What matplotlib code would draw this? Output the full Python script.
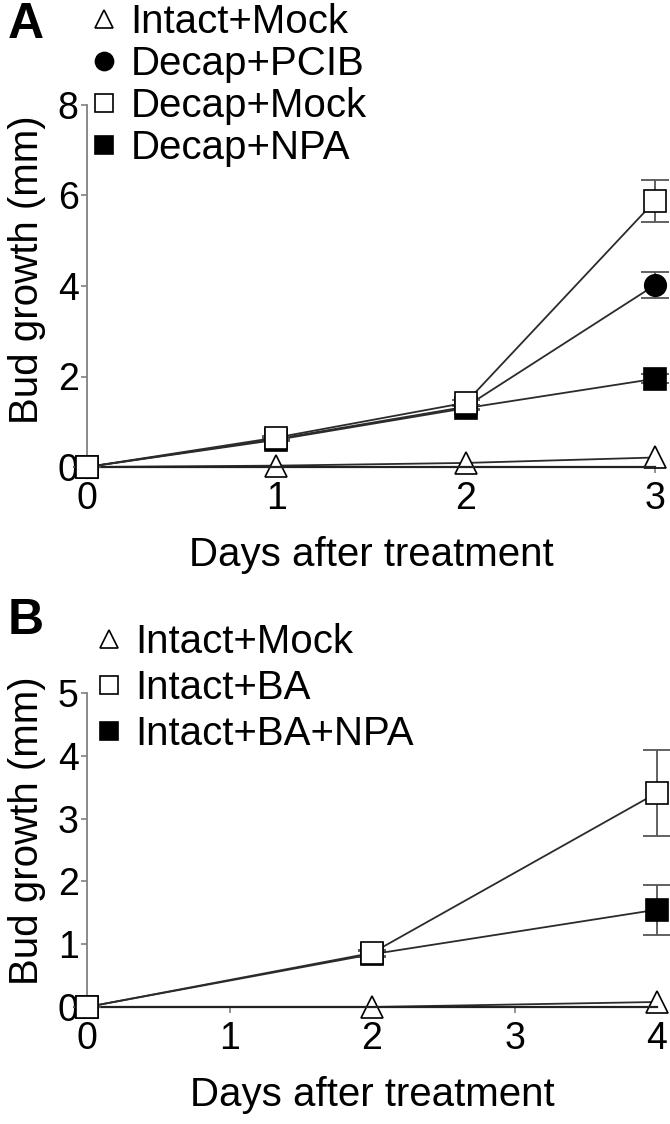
import numpy as np
import matplotlib
matplotlib.use("Agg")
import matplotlib.pyplot as plt
from matplotlib.lines import Line2D

plt.rcParams["font.family"] = ["Liberation Sans", "DejaVu Sans"]

# Panel A data
days_a = [0, 1, 2, 3]
intact_mock_a = [0.0, 0.03, 0.09, 0.21]
decap_pcib = [0.0, 0.62, 1.33, 4.02]
decap_pcib_err = [0.0, 0.03, 0.05, 0.28]
decap_mock = [0.0, 0.65, 1.42, 5.88]
decap_mock_err = [0.0, 0.03, 0.06, 0.46]
decap_npa = [0.0, 0.60, 1.30, 1.95]
decap_npa_err = [0.0, 0.03, 0.05, 0.10]

# Panel B data
days_b = [0, 2, 4]
intact_mock_b = [0.0, 0.0, 0.08]
intact_ba = [0.0, 0.86, 3.41]
intact_ba_err = [0.0, 0.05, 0.69]
intact_ba_npa = [0.0, 0.84, 1.55]
intact_ba_npa_err = [0.0, 0.05, 0.40]

line_col = "#2b2b2b"
err_col = "#555555"
ms = 15.5
fs_tick = 27
fs_lab = 29
fs_leg = 29

fig = plt.figure(figsize=(6.7, 11.24), dpi=100)
ax_a = fig.add_axes([87 / 670, 1 - 467 / 1124, 568 / 670, 362 / 1124])
ax_b = fig.add_axes([87 / 670, 1 - 1007 / 1124, 570 / 670, 314 / 1124])


def series(ax, x, y, err, marker, face, z):
    if err is not None:
        ax.errorbar(x, y, yerr=err, fmt="none", ecolor=err_col, elinewidth=1.3,
                    capsize=10, capthick=1.3, zorder=z, clip_on=False)
    ax.plot(x, y, color=line_col, lw=1.3, marker=marker, ms=ms, mfc=face,
            mec="black", mew=1.2, zorder=z + 0.5, clip_on=False)


def style(ax, xmax, ymax, yticks):
    ax.set_xlim(0, xmax)
    ax.set_ylim(0, ymax)
    ax.set_xticks(range(xmax + 1))
    ax.set_yticks(yticks)
    for s in ["top", "right"]:
        ax.spines[s].set_visible(False)
    ax.spines["left"].set_color("#808080")
    ax.spines["left"].set_linewidth(1.3)
    ax.spines["bottom"].set_color("#222222")
    ax.spines["bottom"].set_linewidth(1.6)
    ax.tick_params(axis="y", direction="out", length=4, width=1.2,
                   color="#808080", labelsize=fs_tick, pad=2)
    ax.tick_params(axis="x", direction="out", length=4, width=1.2,
                   color="#808080", labelsize=fs_tick, pad=6)
    ax.set_xlabel("Days after treatment", fontsize=fs_lab)
    ax.set_ylabel("Bud growth (mm)", fontsize=fs_lab)


# Panel A
series(ax_a, days_a, intact_mock_a, None, "^", "white", 2)
series(ax_a, days_a, decap_npa, decap_npa_err, "s", "black", 3)
series(ax_a, days_a, decap_pcib, decap_pcib_err, "o", "black", 4)
series(ax_a, days_a, decap_mock, decap_mock_err, "s", "white", 5)
style(ax_a, 3, 8, [0, 2, 4, 6, 8])
ax_a.xaxis.set_label_coords(0.5, -0.19)
ax_a.yaxis.set_label_coords(-0.072, 0.545)

# Panel B
series(ax_b, days_b, intact_mock_b, None, "^", "white", 2)
series(ax_b, days_b, intact_ba_npa, intact_ba_npa_err, "s", "black", 3)
series(ax_b, days_b, intact_ba, intact_ba_err, "s", "white", 4)
style(ax_b, 4, 5, [0, 1, 2, 3, 4, 5])
ax_b.xaxis.set_label_coords(0.5, -0.22)
ax_b.yaxis.set_label_coords(-0.072, 0.56)


def handle(marker, face):
    return Line2D([], [], ls="none", marker=marker, ms=13, mfc=face,
                  mec="black", mew=1.2)


leg_a = fig.legend(
    [handle("^", "white"), handle("o", "black"), handle("s", "white"), handle("s", "black")],
    ["Intact+Mock", "Decap+PCIB", "Decap+Mock", "Decap+NPA"],
    loc="upper left", bbox_to_anchor=(92 / 670, 1 - 3 / 1124), frameon=False,
    fontsize=fs_leg, handlelength=0.6, handletextpad=0.35, labelspacing=0.1,
    borderpad=0, borderaxespad=0)

leg_b = fig.legend(
    [handle("^", "white"), handle("s", "white"), handle("s", "black")],
    ["Intact+Mock", "Intact+BA", "Intact+BA+NPA"],
    loc="upper left", bbox_to_anchor=(97 / 670, 1 - 623 / 1124), frameon=False,
    fontsize=fs_leg, handlelength=0.6, handletextpad=0.35, labelspacing=0.2,
    borderpad=0, borderaxespad=0)

fig.text(8 / 670, 1 - 2 / 1124, "A", fontsize=36, fontweight="bold", va="top", ha="left")
fig.text(8 / 670, 1 - 598 / 1124, "B", fontsize=36, fontweight="bold", va="top", ha="left")

fig.savefig("out.png", dpi=100)
